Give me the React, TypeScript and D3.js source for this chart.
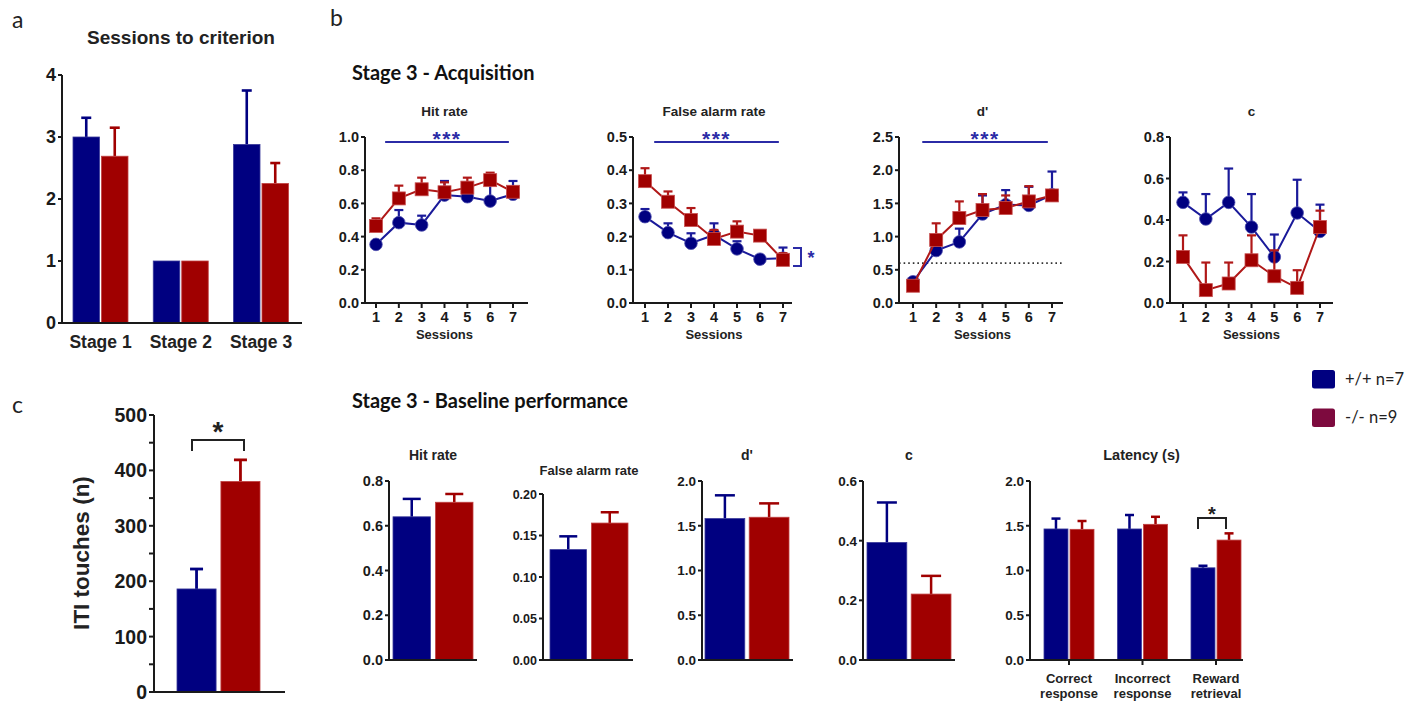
import React from "react";
import * as d3 from "d3";

// ---------------- DATA ----------------
const stages = ["Stage 1", "Stage 2", "Stage 3"];
const critWT = [3.0, 1.0, 2.88];
const critWTSem = [0.31, 0.0, 0.87];
const critKO = [2.69, 1.0, 2.25];
const critKOSem = [0.46, 0.0, 0.33];

const itiGroups = ["+/+", "-/-"];
const itiValues = [186, 380];
const itiSem = [36, 39];

const sessions = [1, 2, 3, 4, 5, 6, 7];
const hitWT = [0.353, 0.484, 0.47, 0.65, 0.64, 0.614, 0.655];
const hitWTSem = [0.02, 0.076, 0.056, 0.085, 0.03, 0.1, 0.08];
const hitKO = [0.464, 0.63, 0.685, 0.667, 0.695, 0.74, 0.67];
const hitKOSem = [0.046, 0.077, 0.07, 0.06, 0.06, 0.045, 0.03];

const faWT = [0.26, 0.212, 0.18, 0.205, 0.163, 0.132, 0.135];
const faWTSem = [0.023, 0.028, 0.03, 0.035, 0.023, 0.01, 0.032];
const faKO = [0.367, 0.305, 0.25, 0.193, 0.215, 0.203, 0.13];
const faKOSem = [0.039, 0.031, 0.036, 0.027, 0.031, 0.01, 0.02];

const dWT = [0.32, 0.79, 0.92, 1.34, 1.48, 1.47, 1.63];
const dWTSem = [0.03, 0.03, 0.2, 0.28, 0.22, 0.28, 0.35];
const dKO = [0.26, 0.95, 1.28, 1.4, 1.43, 1.53, 1.62];
const dKOSem = [0.03, 0.25, 0.25, 0.24, 0.19, 0.23, 0.06];
const dThreshold = 0.6;

const cWT = [0.485, 0.405, 0.485, 0.366, 0.222, 0.434, 0.345];
const cWTSem = [0.048, 0.12, 0.163, 0.159, 0.108, 0.16, 0.129];
const cKO = [0.222, 0.062, 0.094, 0.206, 0.129, 0.073, 0.366];
const cKOSem = [0.104, 0.133, 0.101, 0.12, 0.125, 0.085, 0.079];

const baseHit = [0.64, 0.705];
const baseHitSem = [0.08, 0.037];
const baseFA = [0.133, 0.165];
const baseFASem = [0.016, 0.013];
const baseD = [1.58, 1.595];
const baseDSem = [0.26, 0.155];
const baseC = [0.394, 0.221];
const baseCSem = [0.134, 0.061];

const latencyCats = [["Correct", "response"], ["Incorrect", "response"], ["Reward", "retrieval"]];
const latWT = [1.464, 1.464, 1.03];
const latWTSem = [0.116, 0.156, 0.023];
const latKO = [1.46, 1.516, 1.34];
const latKOSem = [0.093, 0.084, 0.075];

const legendLabels = ["+/+ n=7", "-/- n=9"];

// ---------------- STYLE ----------------
const BLUE = "#000080";
const RED = "#a00000";
const LBLUE = "#1a1a9a";
const LRED = "#b01818";
const SIG = "#2b2ba6";
const AX = "#1a1a1a";
const ARIAL = "'Liberation Sans', Arial, Helvetica, sans-serif";
const CAL = "Lato, 'Open Sans', sans-serif";

type YAxisProps = {
  x: number;
  y: d3.ScaleLinear<number, number>;
  ticks: number[];
  labelEvery?: number;
  fmt: (v: number) => string;
  fontSize: number;
  tickLen?: number;
};

function YAxis({ x, y, ticks, labelEvery = 1, fmt, fontSize, tickLen = 4 }: YAxisProps) {
  const [d0, d1] = y.domain();
  return (
    <g>
      <line x1={x} x2={x} y1={y(d1)} y2={y(d0)} stroke={AX} strokeWidth={2} />
      {ticks.map((t, i) => (
        <g key={i}>
          <line x1={x - tickLen} x2={x} y1={y(t)} y2={y(t)} stroke={AX} strokeWidth={2} />
          {i % labelEvery === 0 && (
            <text
              x={x - tickLen - 2}
              y={y(t)}
              dy="0.36em"
              textAnchor="end"
              fontFamily={ARIAL}
              fontWeight="bold"
              fontSize={fontSize}
              fill={AX}
            >
              {fmt(t)}
            </text>
          )}
        </g>
      ))}
    </g>
  );
}

function ErrBar({ x, yTop, yBase, cap, color, w = 2.5 }: any) {
  return (
    <g stroke={color} strokeWidth={w}>
      <line x1={x} x2={x} y1={yBase} y2={yTop} />
      <line x1={x - cap / 2} x2={x + cap / 2} y1={yTop} y2={yTop} />
    </g>
  );
}

type LineProps = {
  title: string;
  axisX: number;
  axisEnd: number;
  s1: number;
  s7: number;
  ymax: number;
  step: number;
  fmt: (v: number) => string;
  wt: number[];
  wtSem: number[];
  ko: number[];
  koSem: number[];
  sig?: boolean;
  threshold?: number;
};

const LINE_TOP = 137;
const LINE_BOT = 303;

function LinePanel(p: LineProps) {
  const y = d3.scaleLinear().domain([0, p.ymax]).range([LINE_BOT, LINE_TOP]);
  const x = d3.scaleLinear().domain([1, 7]).range([p.s1, p.s7]);
  const ticks = d3.range(0, p.ymax + p.step / 2, p.step);
  const line = d3
    .line<number>()
    .x((_, i) => x(sessions[i]))
    .y((d) => y(d));
  return (
    <g>
      <text x={(x(1) + x(7)) / 2} y={116} textAnchor="middle" fontFamily={ARIAL} fontWeight="bold" fontSize={13.5} fill="#222">
        {p.title}
      </text>
      {p.threshold !== undefined && (
        <line
          x1={p.axisX}
          x2={p.axisEnd}
          y1={y(p.threshold)}
          y2={y(p.threshold)}
          stroke="#333"
          strokeWidth={1.6}
          strokeDasharray="1.6,3"
        />
      )}
      <YAxis x={p.axisX} y={y} ticks={ticks} fmt={p.fmt} fontSize={14.5} />
      <line x1={p.axisX} x2={p.axisEnd} y1={LINE_BOT} y2={LINE_BOT} stroke={AX} strokeWidth={2} />
      {sessions.map((s) => (
        <g key={s}>
          <line x1={x(s)} x2={x(s)} y1={LINE_BOT} y2={LINE_BOT + 5} stroke={AX} strokeWidth={2} />
          <text x={x(s)} y={322} textAnchor="middle" fontFamily={ARIAL} fontWeight="bold" fontSize={14.5} fill={AX}>
            {s}
          </text>
        </g>
      ))}
      <text x={(x(1) + x(7)) / 2} y={339} textAnchor="middle" fontFamily={ARIAL} fontWeight="bold" fontSize={13} fill="#222">
        Sessions
      </text>
      {p.sig && (
        <g>
          <line x1={x(1.4)} x2={x(6.82)} y1={142} y2={142} stroke={SIG} strokeWidth={2} />
          <text x={(x(1.4) + x(6.82)) / 2} y={146} textAnchor="middle" fontFamily={ARIAL} fontWeight="bold" fontSize={21} letterSpacing={1.5} fill={SIG}>
            ***
          </text>
        </g>
      )}
      {/* wild type */}
      <path d={line(p.wt) || ""} fill="none" stroke={LBLUE} strokeWidth={2} />
      {p.wt.map((v, i) => (
        <ErrBar key={i} x={x(sessions[i])} yBase={y(v)} yTop={y(v + p.wtSem[i])} cap={9} color={LBLUE} w={2.2} />
      ))}
      {p.wt.map((v, i) => (
        <circle key={i} cx={x(sessions[i])} cy={y(v)} r={6.3} fill={BLUE} stroke="#5050b0" strokeWidth={0.8} />
      ))}
      {/* knock out */}
      <path d={line(p.ko) || ""} fill="none" stroke={LRED} strokeWidth={2} />
      {p.ko.map((v, i) => (
        <ErrBar key={i} x={x(sessions[i])} yBase={y(v)} yTop={y(v + p.koSem[i])} cap={9} color={LRED} w={2.2} />
      ))}
      {p.ko.map((v, i) => (
        <rect key={i} x={x(sessions[i]) - 6.5} y={y(v) - 6.5} width={13} height={13} fill={RED} stroke="#c85050" strokeWidth={0.8} />
      ))}
    </g>
  );
}

type BarProps = {
  title: string;
  titleY: number;
  titleSize: number;
  axisX: number;
  axisEnd: number;
  top: number;
  bottom: number;
  ymax: number;
  step: number;
  fmt: (v: number) => string;
  tickSize: number;
  cats: string[];
  c0: number;
  c1: number;
  half: number;
  pad: number;
  wt: number[];
  wtSem: number[];
  ko: number[];
  koSem: number[];
  cap: number;
  xTicks?: boolean;
};

function BarPanel(p: BarProps) {
  const y = d3.scaleLinear().domain([0, p.ymax]).range([p.bottom, p.top]);
  const xc = d3.scalePoint<string>().domain(p.cats).range([p.c0, p.c1]);
  const sub = d3.scaleBand<string>().domain(["wt", "ko"]).range([-p.half, p.half]).paddingInner(p.pad);
  const ticks = d3.range(0, p.ymax + p.step / 2, p.step);
  const bw = sub.bandwidth();
  return (
    <g>
      <text x={p.cats.length > 1 ? (p.axisX + p.axisEnd) / 2 + 5 : (xc(p.cats[0]) as number)} y={p.titleY} textAnchor="middle" fontFamily={ARIAL} fontWeight="bold" fontSize={p.titleSize} fill="#222">
        {p.title}
      </text>
      {p.cats.map((c, i) => {
        const cx = xc(c) as number;
        const xb = cx + (sub("wt") as number);
        const xr = cx + (sub("ko") as number);
        return (
          <g key={c}>
            <ErrBar x={xb + bw / 2} yBase={y(p.wt[i])} yTop={y(p.wt[i] + p.wtSem[i])} cap={p.cap} color={BLUE} />
            <ErrBar x={xr + bw / 2} yBase={y(p.ko[i])} yTop={y(p.ko[i] + p.koSem[i])} cap={p.cap} color={RED} />
            <rect x={xb} y={y(p.wt[i])} width={bw} height={y(0) - y(p.wt[i])} fill={BLUE} stroke="#3a3a9a" strokeWidth={0.8} />
            <rect x={xr} y={y(p.ko[i])} width={bw} height={y(0) - y(p.ko[i])} fill={RED} stroke="#c04040" strokeWidth={0.8} />
            {p.xTicks && <line x1={cx} x2={cx} y1={p.bottom} y2={p.bottom + 5} stroke={AX} strokeWidth={2} />}
          </g>
        );
      })}
      <YAxis x={p.axisX} y={y} ticks={ticks} fmt={p.fmt} fontSize={p.tickSize} />
      <line x1={p.axisX} x2={p.axisEnd} y1={p.bottom} y2={p.bottom} stroke={AX} strokeWidth={2} />
    </g>
  );
}

const f1 = d3.format(".1f");
const f2 = d3.format(".2f");
const f0 = d3.format("d");

export default function App() {
  // Panel a
  const yA = d3.scaleLinear().domain([0, 4]).range([323, 75]);
  const xA = d3.scalePoint<string>().domain(stages).range([100.5, 261]);
  const subA = d3.scaleBand<string>().domain(["wt", "ko"]).range([-27.5, 27.5]).paddingInner(0.07);
  const bwA = subA.bandwidth();

  // Panel c
  const yC = d3.scaleLinear().domain([0, 500]).range([692, 415]);
  const xC = d3.scaleBand<string>().domain(itiGroups).range([177, 260]).paddingInner(0.11);
  const bwC = xC.bandwidth();
  const cols = [BLUE, RED];

  const latCatKeys = latencyCats.map((c) => c.join(" "));
  const xLat = d3.scalePoint<string>().domain(latCatKeys).range([1069, 1216]);

  return (
    <svg width={1406} height={702} style={{ position: "absolute", left: 0, top: 0, display: "block" }}>
      <rect x={0} y={0} width={1406} height={702} fill="#fff" />
      <g>
        {/* panel letters & headings */}
        <text x={12} y={28} fontFamily={CAL} fontSize={23} fill="#222">a</text>
        <text x={330} y={26} fontFamily={CAL} fontSize={23} fill="#222">b</text>
        <text x={12} y={413} fontFamily={CAL} fontSize={23} fill="#222">c</text>
        <text x={352} y={80} fontFamily={CAL} fontWeight="bold" fontSize={20} fill="#111">Stage 3 - Acquisition</text>
        <text x={352} y={408} fontFamily={CAL} fontWeight="bold" fontSize={20} fill="#111">Stage 3 - Baseline performance</text>

        {/* ---- Panel a ---- */}
        <text x={181} y={44} textAnchor="middle" fontFamily={ARIAL} fontWeight="bold" fontSize={19} fill="#222">
          Sessions to criterion
        </text>
        {stages.map((s, i) => {
          const cx = xA(s) as number;
          const xb = cx + (subA("wt") as number);
          const xr = cx + (subA("ko") as number);
          return (
            <g key={s}>
              {critWTSem[i] > 0 && <ErrBar x={xb + bwA / 2} yBase={yA(critWT[i])} yTop={yA(critWT[i] + critWTSem[i])} cap={10} color={BLUE} w={2.6} />}
              {critKOSem[i] > 0 && <ErrBar x={xr + bwA / 2} yBase={yA(critKO[i])} yTop={yA(critKO[i] + critKOSem[i])} cap={10} color={RED} w={2.6} />}
              <rect x={xb} y={yA(critWT[i])} width={bwA} height={yA(0) - yA(critWT[i])} fill={BLUE} stroke="#3a3a9a" strokeWidth={0.8} />
              <rect x={xr} y={yA(critKO[i])} width={bwA} height={yA(0) - yA(critKO[i])} fill={RED} stroke="#c04040" strokeWidth={0.8} />
              <text x={cx} y={348} textAnchor="middle" fontFamily={ARIAL} fontWeight="bold" fontSize={17.5} fill="#222">{s}</text>
            </g>
          );
        })}
        <YAxis x={62} y={yA} ticks={[0, 1, 2, 3, 4]} fmt={f0} fontSize={18} />
        <line x1={62} x2={302} y1={323} y2={323} stroke={AX} strokeWidth={2} />

        {/* ---- Panel c ---- */}
        {itiGroups.map((g, i) => {
          const xb = xC(g) as number;
          return (
            <g key={g}>
              <ErrBar x={xb + bwC / 2} yBase={yC(itiValues[i])} yTop={yC(itiValues[i] + itiSem[i])} cap={13} color={cols[i]} w={2.8} />
              <rect x={xb} y={yC(itiValues[i])} width={bwC} height={yC(0) - yC(itiValues[i])} fill={cols[i]} stroke={i === 0 ? "#3a3a9a" : "#c04040"} strokeWidth={0.8} />
            </g>
          );
        })}
        <YAxis x={154} y={yC} ticks={d3.range(0, 501, 50)} labelEvery={2} fmt={f0} fontSize={19.5} tickLen={5} />
        <line x1={154} x2={285} y1={692} y2={692} stroke={AX} strokeWidth={2} />
        <text transform={`translate(89,553) rotate(-90)`} textAnchor="middle" fontFamily={ARIAL} fontWeight="bold" fontSize={22.5} fill="#222">
          ITI touches (n)
        </text>
        <path d={`M${192},${451} V${440} H${244} V${451}`} fill="none" stroke="#222" strokeWidth={2} />
        <text x={218} y={441} textAnchor="middle" fontFamily={ARIAL} fontWeight="bold" fontSize={28} fill="#222">*</text>

        {/* ---- Panel b: acquisition ---- */}
        <LinePanel title="Hit rate" axisX={365} axisEnd={528} s1={376} s7={513} ymax={1.0} step={0.2} fmt={f1}
          wt={hitWT} wtSem={hitWTSem} ko={hitKO} koSem={hitKOSem} sig />
        <LinePanel title="False alarm rate" axisX={633} axisEnd={792} s1={645} s7={783} ymax={0.5} step={0.1} fmt={f1}
          wt={faWT} wtSem={faWTSem} ko={faKO} koSem={faKOSem} sig />
        <LinePanel title="d'" axisX={899} axisEnd={1063} s1={913} s7={1052} ymax={2.5} step={0.5} fmt={f1}
          wt={dWT} wtSem={dWTSem} ko={dKO} koSem={dKOSem} sig threshold={dThreshold} />
        <LinePanel title="c" axisX={1170} axisEnd={1333} s1={1183} s7={1320} ymax={0.8} step={0.2} fmt={f1}
          wt={cWT} wtSem={cWTSem} ko={cKO} koSem={cKOSem} />
        {/* FA session-7 bracket */}
        <path d="M793,248 H801 V266 H793" fill="none" stroke={SIG} strokeWidth={2} />
        <text x={811} y={264} textAnchor="middle" fontFamily={ARIAL} fontWeight="bold" fontSize={18} fill={SIG}>*</text>

        {/* ---- Panel b: baseline ---- */}
        <BarPanel title="Hit rate" titleY={460} titleSize={14} axisX={389} axisEnd={477} top={481} bottom={660} ymax={0.8} step={0.2} fmt={f1} tickSize={14.5}
          cats={["hit"]} c0={433} c1={433} half={40} pad={0.12} wt={baseHit} wtSem={baseHitSem} ko={[baseHit[1]]} koSem={[baseHitSem[1]]} cap={18} />
        <BarPanel title="False alarm rate" titleY={475} titleSize={13} axisX={543} axisEnd={633} top={494} bottom={660} ymax={0.2} step={0.05} fmt={f2} tickSize={12.5}
          cats={["fa"]} c0={589} c1={589} half={39} pad={0.12} wt={baseFA} wtSem={baseFASem} ko={[baseFA[1]]} koSem={[baseFASem[1]]} cap={18} />
        <BarPanel title="d'" titleY={460} titleSize={14} axisX={702} axisEnd={793} top={481} bottom={660} ymax={2.0} step={0.5} fmt={f1} tickSize={13.5}
          cats={["d"]} c0={747} c1={747} half={42} pad={0.1} wt={baseD} wtSem={baseDSem} ko={[baseD[1]]} koSem={[baseDSem[1]]} cap={20} />
        <BarPanel title="c" titleY={460} titleSize={14} axisX={863} axisEnd={955} top={481} bottom={660} ymax={0.6} step={0.2} fmt={f1} tickSize={13.5}
          cats={["c"]} c0={909} c1={909} half={42} pad={0.1} wt={baseC} wtSem={baseCSem} ko={[baseC[1]]} koSem={[baseCSem[1]]} cap={20} />
        <BarPanel title="Latency (s)" titleY={460} titleSize={14.5} axisX={1030} axisEnd={1243} top={481} bottom={660} ymax={2.0} step={0.5} fmt={f1} tickSize={13.5}
          cats={latCatKeys} c0={1069} c1={1216} half={25} pad={0.08} wt={latWT} wtSem={latWTSem} ko={latKO} koSem={latKOSem} cap={9} xTicks />
        {latencyCats.map((c, i) => (
          <text key={i} x={xLat(latCatKeys[i]) as number} y={683} textAnchor="middle" fontFamily={ARIAL} fontWeight="bold" fontSize={13} fill="#222">
            <tspan x={xLat(latCatKeys[i]) as number}>{c[0]}</tspan>
            <tspan x={xLat(latCatKeys[i]) as number} dy={15}>{c[1]}</tspan>
          </text>
        ))}
        <path d="M1198,529 V518 H1226 V529" fill="none" stroke="#222" strokeWidth={2} />
        <text x={1212} y={521} textAnchor="middle" fontFamily={ARIAL} fontWeight="bold" fontSize={20} fill="#222">*</text>

        {/* ---- Legend ---- */}
        {legendLabels.map((l, i) => (
          <g key={l}>
            <rect x={1312} y={370 + i * 38.5} width={23} height={18.5} rx={2.5} fill={i === 0 ? BLUE : "#7d0a3e"} />
            <text x={1345} y={379 + i * 38.5} dy="0.35em" fontFamily={CAL} fontSize={16.5} fill="#222">{l}</text>
          </g>
        ))}
      </g>
    </svg>
  );
}
